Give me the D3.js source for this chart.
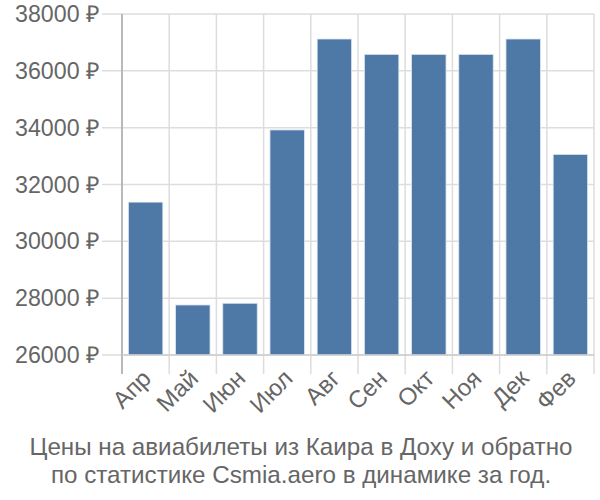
<!DOCTYPE html>
<html><head><meta charset="utf-8">
<script src="https://cdn.jsdelivr.net/npm/d3@7"></script>
<style>body{margin:0;background:#fff}svg{display:block}text{font-family:"Liberation Sans",Arial,sans-serif}</style>
</head><body>
<svg id="c" width="600" height="500"></svg>
<script>
const months = ["Апр","Май","Июн","Июл","Авг","Сен","Окт","Ноя","Дек","Фев"];
const prices = [31380, 27760, 27820, 33920, 37120, 36580, 36580, 36580, 37120, 33060];
const yTicks = [26000, 28000, 30000, 32000, 34000, 36000, 38000];
const titleLines = ["Цены на авиабилеты из Каира в Доху и обратно","по статистике Csmia.aero в динамике за год."];

const svg = d3.select("#c");
const L = 122, R = 594, T = 14, B = 355;
const x = d3.scaleBand().domain(months).range([L, R]).paddingInner(0.27).paddingOuter(0.135);
const y = d3.scaleLinear().domain([26000, 38000]).range([B, T]);
const step = x.step();

// horizontal grid
svg.append("g").selectAll("line").data(yTicks).join("line")
  .attr("x1", 102).attr("x2", R).attr("y1", d => y(d)).attr("y2", d => y(d))
  .attr("stroke", "#ddd").attr("stroke-width", 1.5);
// vertical grid at band boundaries
const bounds = months.map((m, i) => L + i * step).concat([R]);
svg.append("g").selectAll("line").data(bounds).join("line")
  .attr("x1", d => d).attr("x2", d => d).attr("y1", T).attr("y2", 374)
  .attr("stroke", "#ddd").attr("stroke-width", 1.5);

// bars
svg.append("g").selectAll("rect").data(prices).join("rect")
  .attr("x", (d, i) => x(months[i])).attr("width", x.bandwidth())
  .attr("y", d => y(d)).attr("height", d => B - y(d))
  .attr("fill", "#4e79a7").attr("stroke", "#dfe6ef").attr("stroke-width", 0.8);

// axis lines
svg.append("line").attr("x1", L).attr("x2", L).attr("y1", T).attr("y2", 374).attr("stroke", "#aaa").attr("stroke-width", 1.5);
svg.append("line").attr("x1", L).attr("x2", R).attr("y1", B).attr("y2", B).attr("stroke", "#ccc").attr("stroke-width", 1.5);

// y labels
svg.append("g").selectAll("text").data(yTicks).join("text")
  .attr("x", 100).attr("y", d => y(d)).attr("dy", "0.35em").attr("text-anchor", "end")
  .attr("font-size", 23.2).attr("fill", "#666").text(d => d + " ₽");

// x labels
svg.append("g").selectAll("text").data(months).join("text")
  .attr("transform", d => `translate(${x(d) + x.bandwidth() / 2 + 1},${374}) rotate(-45)`)
  .attr("text-anchor", "end").attr("dy", "0.35em")
  .attr("font-size", 24).attr("fill", "#666").text(d => d);

// title
svg.append("g").selectAll("text").data(titleLines).join("text")
  .attr("x", 301).attr("y", (d, i) => 455 + i * 28).attr("text-anchor", "middle")
  .attr("font-size", 24.2).attr("fill", "#666").text(d => d);
</script>
</body></html>
